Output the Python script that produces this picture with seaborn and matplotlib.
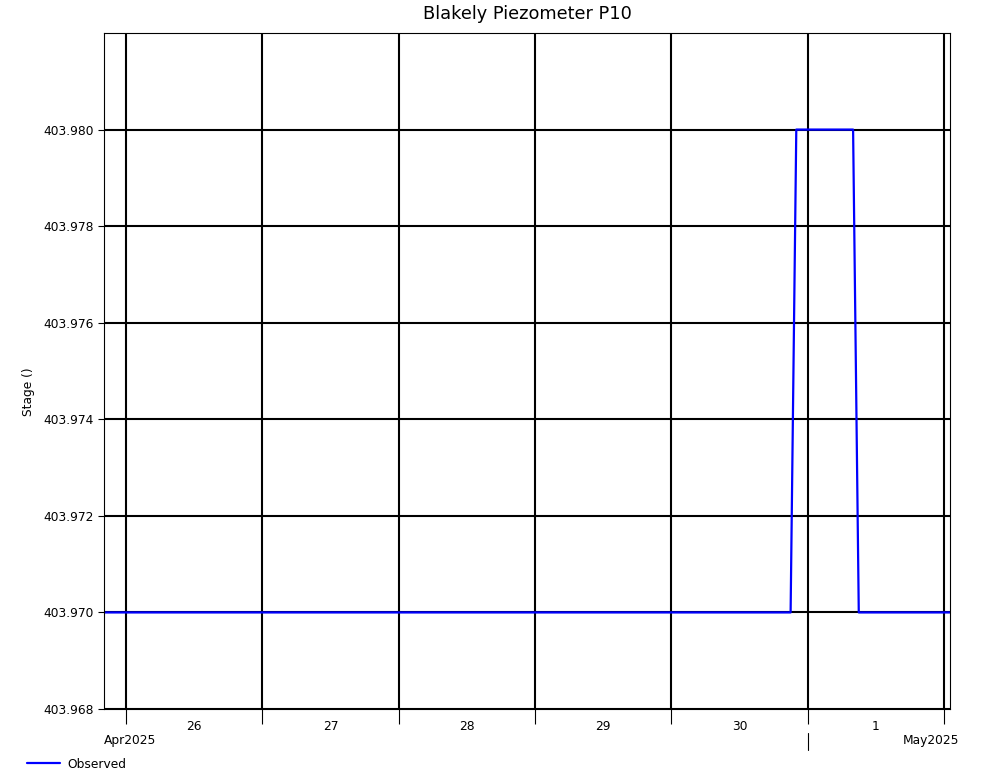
import pandas as pd
import numpy as np
import seaborn as sns
import matplotlib.pyplot as plt
import matplotlib.dates as mdates
import matplotlib.transforms as mtransforms

# Observed stage readings (vertices of the step in the record)
times = ['2025-04-25 20:00', '2025-04-30 21:00', '2025-04-30 22:00',
         '2025-05-01 08:00', '2025-05-01 09:00', '2025-05-02 01:00']
stage = [403.970, 403.970, 403.980, 403.980, 403.970, 403.970]

y_ticks = [403.968, 403.970, 403.972, 403.974, 403.976, 403.978, 403.980]
x_start = '2025-04-25 20:08'
x_end = '2025-05-02 01:03'
month_split = '2025-05-01'

df = pd.DataFrame({'time': pd.to_datetime(times), 'stage': stage})

sns.set_style('white')
plt.rcParams['font.family'] = ['DejaVu Sans']
plt.rcParams['font.size'] = 8.8
plt.rcParams['text.color'] = 'black'
plt.rcParams['axes.labelcolor'] = 'black'
plt.rcParams['xtick.color'] = 'black'
plt.rcParams['ytick.color'] = 'black'

fig = plt.figure(figsize=(10.01, 7.80), dpi=100)
ax = fig.add_axes([0.1039, 0.0910, 0.8451, 0.8667])

sns.lineplot(data=df, x='time', y='stage', color='#0000ff', linewidth=1.6, ax=ax, label='Observed', legend=False)

ax.set_xlim(pd.Timestamp(x_start), pd.Timestamp(x_end))
ax.set_ylim(403.968, 403.982)
ax.set_yticks(y_ticks)
ax.yaxis.set_major_formatter(plt.FormatStrFormatter('%.3f'))

ax.xaxis.set_major_locator(mdates.DayLocator())
ax.xaxis.set_major_formatter(plt.NullFormatter())
ax.xaxis.set_minor_locator(mdates.HourLocator(byhour=12))
ax.xaxis.set_minor_formatter(plt.FuncFormatter(lambda v, p: str(mdates.num2date(v).day)))
ax.tick_params(axis='x', which='major', length=11, width=0.8, color='black', direction='out', bottom=True)
ax.tick_params(axis='x', which='minor', length=0, pad=8, labelsize=8.8, labelcolor='black')
ax.tick_params(axis='y', which='major', length=4, width=0.8, color='black', direction='out', left=True,
               labelsize=8.8, labelcolor='black')

ax.grid(True, which='major', color='black', linewidth=1.5)
ax.set_axisbelow(True)
for s in ax.spines.values():
    s.set_color('black')
    s.set_linewidth(0.8)

ax.set_xlabel('')
ax.set_ylabel('Stage ()', fontsize=8.8, color='black')
ax.yaxis.set_label_coords(-0.081, 0.47)
ax.set_title('Blakely Piezometer P10', fontsize=12.8, pad=10, color='black')

# month row under the day labels
ax.text(0.0, -0.047, 'Apr2025', transform=ax.transAxes, ha='left', va='center', fontsize=8.8, color='black')
ax.text(1.0106, -0.047, 'May2025', transform=ax.transAxes, ha='right', va='center', fontsize=8.8, color='black')
trans = mtransforms.blended_transform_factory(ax.transData, ax.transAxes)
ax.plot([pd.Timestamp(month_split)] * 2, [-0.0355, -0.0607], color='black', linewidth=0.8,
        transform=trans, clip_on=False)

handles, labels = ax.get_legend_handles_labels()
fig.legend(handles, labels, loc='center left', bbox_to_anchor=(0.027, 1 - 764 / 780),
           frameon=False, handlelength=2.7, handletextpad=0.6, borderpad=0, borderaxespad=0,
           fontsize=8.8, labelcolor='black')

fig.savefig('out.png', dpi=100)
